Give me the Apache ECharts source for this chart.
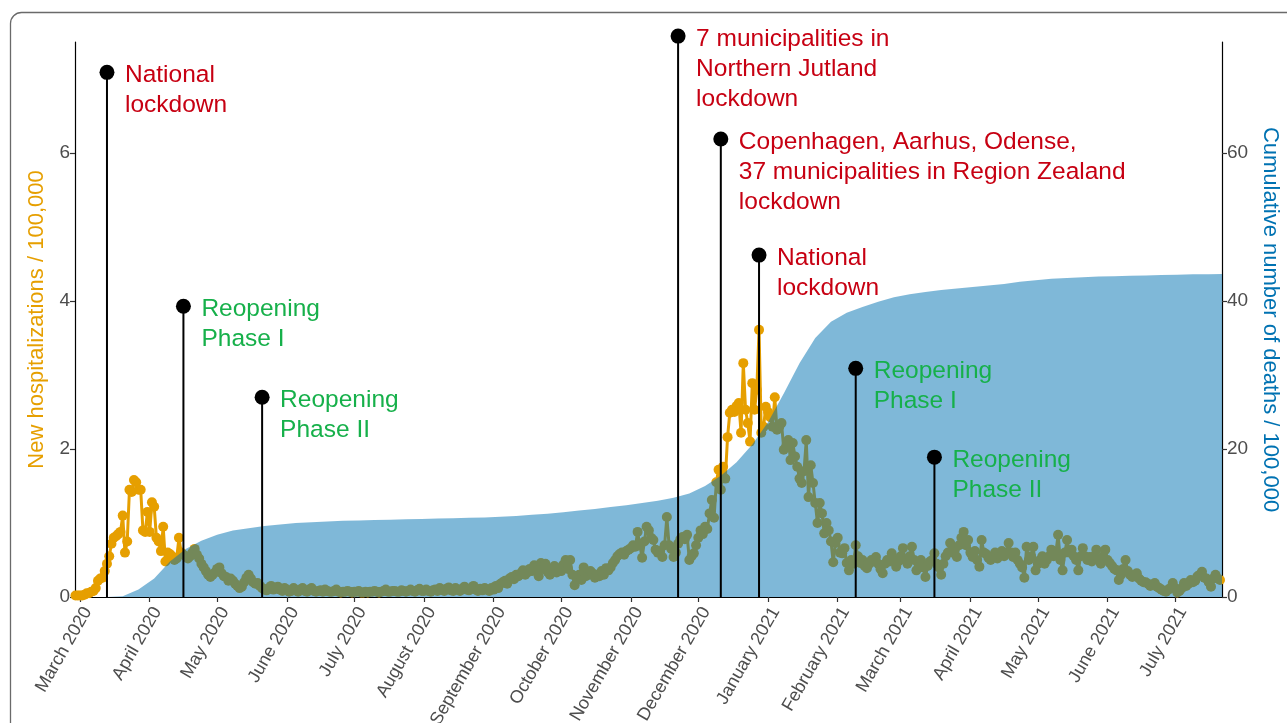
<!DOCTYPE html>
<html><head><meta charset="utf-8">
<script src="https://cdn.jsdelivr.net/npm/echarts@6/dist/echarts.min.js"></script>
<style>html,body{margin:0;padding:0;background:#fff}#c{width:1287px;height:723px}</style>
</head><body><div id="c"></div>
<script>
// ---- data ----
const dailyStart = '2020-02-28'; // date of first daily hospitalization value
const hospitalizations = [
0.02,0.02,0.02,0.02,0.03,0.05,0.05,0.07,0.08,0.12,
0.22,0.25,0.26,0.35,0.45,0.55,0.72,0.8,0.82,0.85,
0.88,1.1,0.6,0.75,1.45,1.42,1.58,1.55,1.45,1.45,
0.9,0.88,1.15,0.88,1.28,1.22,0.8,0.75,0.62,0.95,
0.48,0.6,0.58,0.55,0.5,0.52,0.8,0.6,0.57,0.55,
0.52,0.55,0.6,0.65,0.57,0.52,0.45,0.4,0.35,0.3,
0.27,0.3,0.33,0.38,0.4,0.32,0.28,0.27,0.22,0.25,
0.22,0.18,0.15,0.12,0.14,0.2,0.26,0.3,0.25,0.2,
0.18,0.19,0.15,0.12,0.1,0.09,0.12,0.15,0.1,0.12,
0.14,0.1,0.08,0.12,0.1,0.07,0.08,0.12,0.09,0.07,
0.1,0.12,0.08,0.07,0.1,0.12,0.08,0.07,0.08,0.09,
0.07,0.1,0.08,0.07,0.07,0.08,0.1,0.07,0.06,0.07,
0.07,0.08,0.07,0.06,0.07,0.07,0.08,0.06,0.06,0.07,
0.06,0.07,0.07,0.08,0.07,0.06,0.07,0.08,0.1,0.07,
0.07,0.08,0.08,0.07,0.07,0.09,0.08,0.07,0.08,0.1,
0.08,0.07,0.09,0.11,0.08,0.08,0.1,0.08,0.07,0.09,
0.1,0.08,0.12,0.1,0.08,0.11,0.13,0.09,0.08,0.12,
0.1,0.08,0.11,0.14,0.1,0.09,0.12,0.15,0.1,0.08,
0.11,0.09,0.12,0.1,0.08,0.12,0.1,0.15,0.12,0.18,
0.2,0.22,0.18,0.25,0.27,0.24,0.3,0.28,0.32,0.36,
0.3,0.33,0.38,0.35,0.43,0.4,0.28,0.46,0.38,0.45,
0.34,0.3,0.37,0.42,0.33,0.39,0.35,0.44,0.5,0.38,
0.5,0.3,0.16,0.25,0.3,0.23,0.4,0.28,0.3,0.35,
0.32,0.26,0.3,0.28,0.35,0.3,0.39,0.36,0.4,0.46,
0.5,0.55,0.58,0.6,0.57,0.62,0.64,0.66,0.7,0.68,
0.88,0.7,0.53,0.75,0.95,0.9,0.8,0.77,0.64,0.6,
0.62,0.54,0.7,1.08,0.7,0.65,0.54,0.6,0.72,0.78,
0.81,0.78,0.84,0.5,0.55,0.59,0.7,0.8,0.9,0.85,
0.95,0.92,1.13,1.31,1.07,1.55,1.72,1.45,1.76,1.6,
2.16,2.49,2.53,2.5,2.58,2.62,2.22,3.16,2.53,2.35,
2.1,2.89,2.53,2.8,3.61,2.22,2.3,2.57,2.5,2.43,
2.3,2.7,2.26,2.3,2.35,1.99,2.03,2.12,1.85,2.08,
1.9,1.76,1.6,1.54,1.7,2.12,1.35,1.78,1.54,1.27,
1.0,1.27,1.13,0.86,1.0,0.9,0.75,0.47,0.73,0.8,
0.6,0.59,0.66,0.46,0.36,0.5,0.45,0.7,0.55,0.46,
0.5,0.42,0.39,0.45,0.5,0.48,0.54,0.45,0.38,0.32,
0.45,0.5,0.48,0.59,0.5,0.41,0.48,0.55,0.66,0.5,
0.45,0.55,0.68,0.5,0.36,0.45,0.5,0.4,0.27,0.42,
0.48,0.5,0.59,0.45,0.4,0.3,0.45,0.55,0.6,0.73,
0.6,0.65,0.54,0.7,0.8,0.88,0.7,0.77,0.6,0.54,
0.62,0.5,0.41,0.77,0.6,0.58,0.53,0.5,0.55,0.6,
0.52,0.57,0.62,0.55,0.6,0.73,0.6,0.54,0.6,0.5,
0.45,0.4,0.26,0.68,0.5,0.55,0.68,0.36,0.45,0.5,
0.55,0.45,0.5,0.55,0.64,0.55,0.6,0.84,0.5,0.36,
0.6,0.77,0.6,0.64,0.55,0.5,0.36,0.55,0.66,0.55,
0.5,0.54,0.48,0.55,0.64,0.5,0.45,0.55,0.64,0.5,
0.46,0.42,0.38,0.36,0.23,0.3,0.38,0.5,0.35,0.3,
0.27,0.3,0.32,0.25,0.22,0.2,0.2,0.18,0.15,0.17,
0.19,0.14,0.12,0.1,0.08,0.07,0.1,0.12,0.19,0.12,
0.06,0.08,0.12,0.19,0.15,0.18,0.23,0.2,0.22,0.28,
0.3,0.34,0.26,0.25,0.2,0.14,0.25,0.3,0.25,0.23
];
const deathsStart = '2020-02-28';
const deathsStepDays = 7; // weekly readings
const cumulativeDeaths = [
0,0,0,0.1,1.0,2.5,4.8,6.5,7.6,8.4,
9.0,9.3,9.6,9.8,10.0,10.1,10.2,10.3,10.35,10.4,
10.45,10.5,10.55,10.6,10.65,10.7,10.75,10.85,10.95,11.1,
11.25,11.45,11.7,11.9,12.15,12.4,12.7,13.0,13.4,14.0,
15.0,16.4,18.2,20.6,23.6,27.5,31.6,35.0,37.2,38.4,
39.2,39.9,40.5,40.9,41.2,41.5,41.7,41.9,42.1,42.3,
42.6,42.8,43.0,43.1,43.2,43.3,43.35,43.4,43.45,43.5,
43.55,43.6,43.6,43.65
];
const axisStart = '2020-02-27';   // x-axis range (days, with fractional edges)
const axisEnd = '2021-07-21';
const monthTicks = ['2020-03','2020-04','2020-05','2020-06','2020-07','2020-08','2020-09','2020-10','2020-11','2020-12','2021-01','2021-02','2021-03','2021-04','2021-05','2021-06','2021-07'];
const monthNames = ['January','February','March','April','May','June','July','August','September','October','November','December'];
const leftTicks = [0,2,4,6];
const rightTicks = [0,20,40,60];
const eventDates = ['2020-03-13','2020-04-16','2020-05-21','2020-11-22','2020-12-11','2020-12-28','2021-02-09','2021-03-16'];
const eventHeights = [7.09,3.93,2.7,7.58,6.19,4.62,3.09,1.89];
const eventTypes = ['lockdown','reopening','reopening','lockdown','lockdown','lockdown','reopening','reopening'];
const eventLabels = [
 'National\nlockdown',
 'Reopening\nPhase I',
 'Reopening\nPhase II',
 '7 municipalities in\nNorthern Jutland\nlockdown',
 'Copenhagen, Aarhus, Odense,\n37 municipalities in Region Zealand\nlockdown',
 'National\nlockdown',
 'Reopening\nPhase I',
 'Reopening\nPhase II'
];

// ---- helpers: x is measured in days since 1 March 2020 ----
const DAY = 86400000;
function dayNum(s, addDays) {
  const p = s.split('-').map(Number);
  const t = Date.UTC(p[0], p[1]-1, (p[2]||1) + (addDays||0));
  return Math.round((t - Date.UTC(2020,2,1)) / DAY);
}
function dayLabel(n) {
  const d = new Date(Date.UTC(2020,2,1) + n*DAY);
  return monthNames[d.getUTCMonth()] + ' ' + d.getUTCFullYear();
}
const FONT = '"Liberation Sans", Arial, Helvetica, sans-serif';
const hospData = hospitalizations.map((v,i)=>[dayNum(dailyStart,i), v]);
const deathData = cumulativeDeaths.map((v,i)=>[dayNum(deathsStart,i*deathsStepDays), v]);
const eventColor = {lockdown:'#C70012', reopening:'#16B04A'};
const eventBars = eventDates.map((d,i)=>[dayNum(d), eventHeights[i]]);
const eventDots = eventDates.map((d,i)=>({
  value:[dayNum(d), eventHeights[i]],
  label:{formatter: eventLabels[i], color: eventColor[eventTypes[i]]}
}));
const monthVals = monthTicks.map(m=>dayNum(m));

const chart = echarts.init(document.getElementById('c'), null, {renderer:'canvas'});
chart.setOption({
  animation:false,
  backgroundColor:'#fff',
  textStyle:{fontFamily:FONT},
  graphic:[{
    type:'rect', silent:true, z:100,
    shape:{x:10.5, y:12.5, width:1400, height:900, r:11},
    style:{fill:'none', stroke:'#6a6a6a', lineWidth:1.3}
  }],
  grid:{left:75, right:65, top:42, bottom:126, containLabel:false, outerBoundsMode:'none'},
  xAxis:{
    type:'value',
    min: dayNum(axisStart) + 0.78,
    max: dayNum(axisEnd) + 0.9,
    splitLine:{show:false},
    axisLine:{onZero:false, lineStyle:{color:'#000', width:1.2}},
    axisTick:{customValues:monthVals, length:5, lineStyle:{color:'#333', width:1.2}},
    axisLabel:{
      customValues:monthVals, rotate:60, margin:7,
      align:'right', verticalAlign:'top',
      fontSize:18, color:'#4D4D4D', fontFamily:FONT,
      formatter:function(v){return dayLabel(v);}
    }
  },
  yAxis:[{
    type:'value', position:'left', min:0, max:7.5,
    splitLine:{show:false},
    axisLine:{show:true, onZero:false, lineStyle:{color:'#000', width:1.2}},
    axisTick:{show:true, customValues:leftTicks, length:5, lineStyle:{color:'#333', width:1.2}},
    axisLabel:{customValues:leftTicks, fontSize:19, color:'#4D4D4D', margin:5, fontFamily:FONT},
    name:'New hospitalizations / 100,000', nameLocation:'middle', nameGap:27, nameRotate:90,
    nameTextStyle:{color:'#E69F00', fontSize:22, fontFamily:FONT}
  },{
    type:'value', position:'right', min:0, max:75,
    splitLine:{show:false},
    axisLine:{show:true, onZero:false, lineStyle:{color:'#000', width:1.2}},
    axisTick:{show:true, customValues:rightTicks, length:5, lineStyle:{color:'#333', width:1.2}},
    axisLabel:{customValues:rightTicks, fontSize:19, color:'#4D4D4D', margin:5, fontFamily:FONT},
    name:'Cumulative number of deaths / 100,000', nameLocation:'middle', nameGap:33, nameRotate:-90,
    nameTextStyle:{color:'#0072B2', fontSize:22, fontFamily:FONT}
  }],
  series:[{
    type:'line', yAxisIndex:0, data:hospData, z:2,
    symbol:'circle', symbolSize:10, showSymbol:true,
    lineStyle:{color:'#E69F00', width:3},
    itemStyle:{color:'#E69F00', opacity:1}
  },{
    type:'line', yAxisIndex:1, data:deathData, z:3,
    symbol:'none', smooth:false,
    lineStyle:{width:0, opacity:0},
    areaStyle:{color:'rgba(0,114,178,0.5)', opacity:1}
  },{
    type:'bar', yAxisIndex:0, data:eventBars, z:4, barWidth:2, clip:false,
    itemStyle:{color:'#000', opacity:1}
  },{
    type:'scatter', yAxisIndex:0, data:eventDots, z:5, clip:false,
    symbol:'circle', symbolSize:15, itemStyle:{color:'#000', opacity:1},
    label:{show:true, position:[25.5,-4.5], align:'left', verticalAlign:'top',
      fontSize:24.5, lineHeight:30, fontFamily:FONT}
  }]
});
</script></body></html>
